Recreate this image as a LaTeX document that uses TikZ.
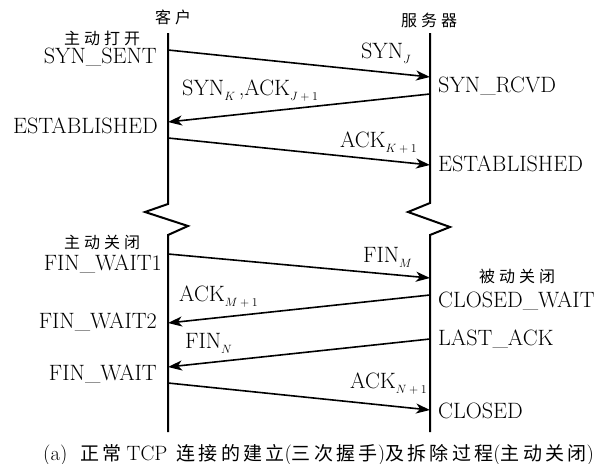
\documentclass[tikz,border=0pt]{standalone}
\usepackage{fontspec}
\usetikzlibrary{arrows.meta}
\newfontfamily\cjk[LetterSpace=25]{Noto Sans CJK SC}
\newfontfamily\cjkp{Noto Sans CJK SC}
\newcommand\sbx[1]{\raisebox{-5pt}{\large$#1$}}
\makeatletter
\newcommand\zc[1]{{\fontsize{19}{23}\cjkp\@tfor\zch:=#1\do{\zch\kern3.3pt}\unkern}}
\makeatother
\begin{document}
\begin{tikzpicture}[x=1pt,y=-1pt,
  lifeline/.style={line width=2pt},
  msg/.style={line width=1.6pt,-{Stealth[length=14pt,width=10pt,inset=4pt]}},
  st/.style={inner sep=0pt,font=\fontsize{22.2}{26}\selectfont},
  zh/.style={inner sep=0pt,font=\fontsize{16}{18}\cjk},
]
\useasboundingbox (0,0) rectangle (596,463);
% lifelines
\coordinate (ct) at (168,33);
\coordinate (cb) at (168,432);
\coordinate (st) at (430,33);
\coordinate (sb) at (430,432);
\draw[lifeline] (ct) -- (168,204) -- (145,212) -- (188,226) -- (168,235) -- (cb);
\draw[lifeline] (st) -- (430,203) -- (408,212) -- (450,227) -- (430,235) -- (sb);
% headers
\node[zh] (kh) at (173,17) {客户};
\node[zh] (fwq) at (429,20) {服务器};
\node[zh] (zdkk) at (102,38) {主动打开};
\node[zh] (zdgb) at (102,242) {主动关闭};
\node[zh] (bdgb) at (517,276) {被动关闭};
% states
\node[st,anchor=base east] (synsent) at (157,63) {SYN\_SENT};
\node[st,anchor=base east] (estc) at (158,133) {ESTABLISHED};
\node[st,anchor=base west] (synrcvd) at (438,92) {SYN\_RCVD};
\node[st,anchor=base west] (ests) at (438,171) {ESTABLISHED};
\node[st,anchor=base east] (fw1) at (162,270) {FIN\_WAIT1};
\node[st,anchor=base west] (cw) at (438,307) {CLOSED\_WAIT};
\node[st,anchor=base east] (fw2) at (157,328) {FIN\_WAIT2};
\node[st,anchor=base west] (la) at (438,345) {LAST\_ACK};
\node[st,anchor=base east] (fw) at (157,380) {FIN\_WAIT};
\node[st,anchor=base west] (closed) at (438,418) {CLOSED};
% message labels
\node[st,anchor=base east] (l1) at (411,58) {SYN\sbx{J}};
\node[st,anchor=base west] (l2) at (182,95) {SYN\sbx{K}\,,ACK\sbx{J+1}};
\node[st,anchor=base east] (l3) at (417,147) {ACK\sbx{K+1}};
\node[st,anchor=base east] (l4) at (412,262) {FIN\sbx{M}};
\node[st,anchor=base west] (l5) at (179,301) {ACK\sbx{M+1}};
\node[st,anchor=base west] (l6) at (185,348) {FIN\sbx{N}};
\node[st,anchor=base east] (l7) at (427,388) {ACK\sbx{N+1}};
% message endpoints
\coordinate (c1) at (168,50);  \coordinate (s1) at (430,77);
\coordinate (s2) at (430,94);  \coordinate (c2) at (168,122);
\coordinate (c3) at (168,138); \coordinate (s3) at (430,165);
\coordinate (c4) at (168,254); \coordinate (s4) at (430,278);
\coordinate (s5) at (430,295); \coordinate (c5) at (168,323);
\coordinate (s6) at (430,339); \coordinate (c6) at (168,367);
\coordinate (c7) at (168,383); \coordinate (s7) at (430,410);
\draw[msg] (c1) -- (s1);
\draw[msg] (s2) -- (c2);
\draw[msg] (c3) -- (s3);
\draw[msg] (c4) -- (s4);
\draw[msg] (s5) -- (c5);
\draw[msg] (s6) -- (c6);
\draw[msg] (c7) -- (s7);
% caption
\node[anchor=base west,inner sep=0pt] (cap) at (43,460) {\huge (a)\hspace{13pt}\zc{正常}\hspace{5pt}TCP\hspace{9pt}\zc{连接的建立}(\zc{三次握手})\zc{及拆除过程}(\zc{主动关闭})};
\end{tikzpicture}
\end{document}
